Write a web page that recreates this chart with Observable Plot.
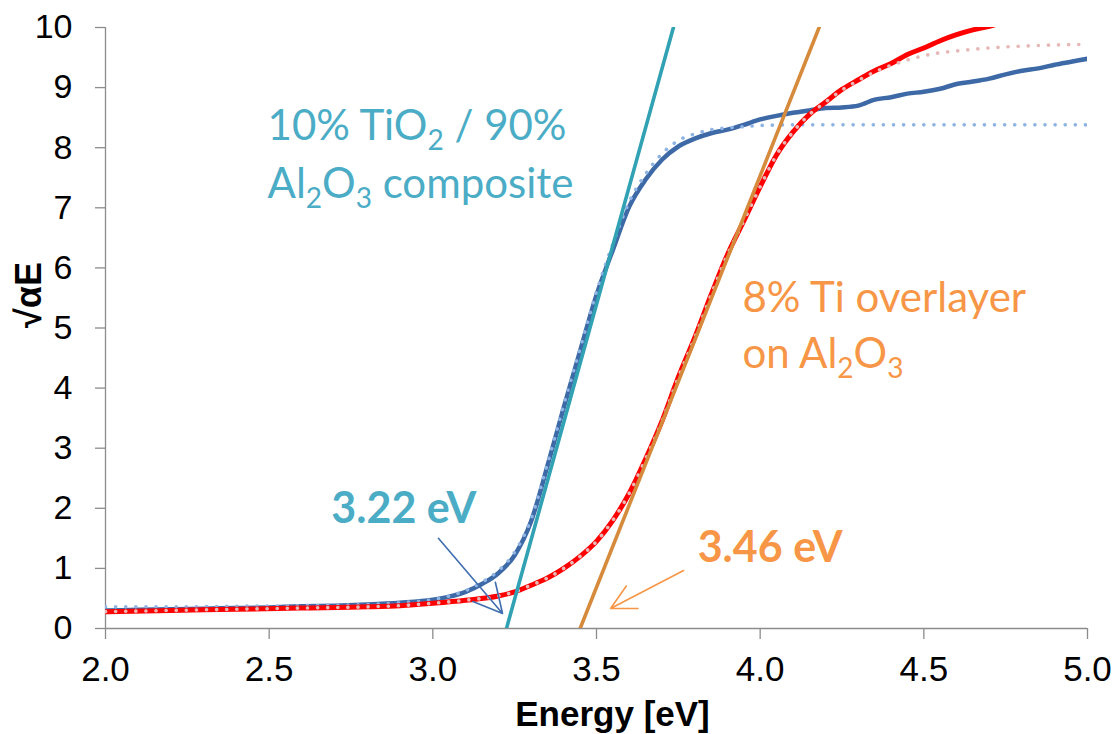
<!DOCTYPE html>
<html>
<head>
<meta charset="utf-8">
<script src="https://cdn.jsdelivr.net/npm/d3@7"></script>
<script src="https://cdn.jsdelivr.net/npm/@observablehq/plot@0.6"></script>
<style>
  html, body { margin: 0; padding: 0; background: #fff; }
</style>
</head>
<body>
<div id="chart"></div>
<script>
// ---- Data ----
// 10% TiO2 / 90% Al2O3 composite (measured, solid blue)
const compE = [2.00,2.10,2.20,2.30,2.40,2.50,2.60,2.70,2.80,2.90,3.00,3.05,3.10,3.15,3.20,3.25,3.30,3.35,3.40,3.45,3.50,3.55,3.60,3.65,3.70,3.75,3.80,3.85,3.90,3.95,4.00,4.05,4.10,4.15,4.20,4.25,4.30,4.35,4.40,4.45,4.50,4.55,4.60,4.65,4.70,4.75,4.80,4.85,4.90,4.95,5.00];
const compV = [0.30,0.31,0.32,0.33,0.34,0.35,0.37,0.38,0.40,0.43,0.48,0.53,0.61,0.74,0.92,1.22,1.78,2.70,3.68,4.62,5.55,6.30,7.02,7.47,7.80,8.02,8.15,8.24,8.30,8.38,8.47,8.53,8.58,8.62,8.66,8.67,8.70,8.80,8.84,8.90,8.93,8.98,9.06,9.10,9.15,9.22,9.28,9.32,9.38,9.43,9.48];
// composite fit (dotted light blue)
const compFitE = [2.00,2.20,2.40,2.60,2.80,2.90,3.00,3.05,3.10,3.15,3.20,3.25,3.30,3.35,3.40,3.45,3.50,3.55,3.60,3.65,3.70,3.75,3.80,3.85,3.90,3.95,4.00,4.10,4.20,4.50,5.00];
const compFitV = [0.36,0.36,0.37,0.38,0.40,0.43,0.48,0.54,0.63,0.77,0.96,1.27,1.82,2.74,3.72,4.66,5.60,6.40,7.10,7.56,7.90,8.12,8.23,8.30,8.33,8.35,8.37,8.38,8.38,8.38,8.38];
// 8% Ti overlayer on Al2O3 (measured, solid red)
const overE = [2.00,2.20,2.40,2.60,2.80,2.90,3.00,3.10,3.20,3.25,3.30,3.35,3.40,3.45,3.50,3.55,3.60,3.65,3.70,3.75,3.80,3.85,3.90,3.95,4.00,4.05,4.10,4.15,4.20,4.25,4.30,4.35,4.40,4.45,4.50,4.55,4.60,4.65,4.70,4.75];
const overV = [0.28,0.30,0.32,0.34,0.36,0.38,0.42,0.47,0.54,0.61,0.72,0.84,1.00,1.20,1.45,1.80,2.25,2.82,3.45,4.18,4.84,5.55,6.22,6.78,7.35,7.88,8.26,8.55,8.76,8.97,9.13,9.28,9.40,9.55,9.66,9.78,9.88,9.96,10.02,10.10];
// overlayer fit (dotted pink)
const overFitE = [2.00,2.20,2.40,2.60,2.80,2.90,3.00,3.10,3.20,3.25,3.30,3.35,3.40,3.45,3.50,3.55,3.60,3.65,3.70,3.75,3.80,3.85,3.90,3.95,4.00,4.05,4.10,4.15,4.20,4.25,4.30,4.35,4.40,4.45,4.50,4.55,4.60,4.70,4.80,4.90,5.00];
const overFitV = [0.28,0.30,0.32,0.34,0.36,0.38,0.42,0.47,0.54,0.61,0.72,0.84,1.00,1.20,1.45,1.80,2.25,2.82,3.45,4.18,4.84,5.55,6.22,6.78,7.35,7.88,8.26,8.55,8.76,8.96,9.12,9.26,9.37,9.46,9.53,9.58,9.61,9.66,9.69,9.71,9.72];
// Tauc tangent lines
const tealE = [3.225, 3.735];
const tealV = [0, 10];
const orangeE = [3.45, 4.18];
const orangeV = [0, 10];
// Ticks
const xTicks = [2.0, 2.5, 3.0, 3.5, 4.0, 4.5, 5.0];
const yTicks = [0, 1, 2, 3, 4, 5, 6, 7, 8, 9, 10];
// Annotations
const noteText = ["10% TiO₂ / 90%", "Al₂O₃ composite", "8% Ti overlayer", "on Al₂O₃", "3.22 eV", "3.46 eV"];
const noteX = [2.495, 2.495, 3.946, 3.946, 2.69, 3.809];
const noteY = [8.12, 7.17, 5.26, 4.33, 1.76, 1.10];
const noteColor = ["teal", "teal", "orange", "orange", "teal", "orange"];
const noteBold = [false, false, false, false, true, true];
// Arrows: [x1, y1, x2, y2]
const arrowX1 = [3.017, 3.766];
const arrowY1 = [1.50, 0.965];
const arrowX2 = [3.213, 3.543];
const arrowY2 = [0.25, 0.333];
const arrowColor = ["#3f6db0", "#f79646"];

// ---- Build tables ----
const toRows = (E, V) => E.map((x, i) => ({x, y: V[i]}));
const comp = toRows(compE, compV);
const compFit = toRows(compFitE, compFitV);
const over = toRows(overE, overV);
const overFit = toRows(overFitE, overFitV);
const teal = toRows(tealE, tealV);
const orange = toRows(orangeE, orangeV);
const colors = {teal: "#4bacc6", orange: "#f79646"};
const notes = noteText.map((t, i) => ({t, x: noteX[i], y: noteY[i], c: colors[noteColor[i]], b: noteBold[i]}));
const arrows = arrowX1.map((d, i) => ({x1: d, y1: arrowY1[i], x2: arrowX2[i], y2: arrowY2[i], c: arrowColor[i]}));

const axisGrey = "#8c8c8c";
const dotted = {strokeDasharray: "0.1,10", strokeLinecap: "round", strokeWidth: 3.6};

const chart = Plot.plot({
  width: 1116,
  height: 734,
  marginLeft: 105,
  marginRight: 29,
  marginTop: 27,
  marginBottom: 106,
  x: {domain: [2, 5]},
  y: {domain: [0, 10]},
  style: {fontFamily: "'Liberation Sans', Arial, sans-serif", background: "#fff", color: "#000"},
  marks: [
    Plot.axisY({ticks: yTicks, tickSize: 10, tickPadding: 23, label: null, fontSize: 34, stroke: axisGrey, strokeWidth: 1.3}),
    Plot.axisX({ticks: xTicks, tickFormat: d3.format(".1f"), tickSize: 11, tickPadding: 17, label: null, fontSize: 35, stroke: axisGrey, strokeWidth: 1.3}),
    Plot.ruleX([2], {y1: 0, y2: 10, stroke: axisGrey, strokeWidth: 1.3}),
    Plot.ruleY([0], {x1: 2, x2: 5, stroke: axisGrey, strokeWidth: 1.3}),
    Plot.line(comp, {x: "x", y: "y", stroke: "#3d69a6", strokeWidth: 4.5, curve: "monotone-x", clip: true}),
    Plot.line(compFit, {x: "x", y: "y", stroke: "#8fb4e3", curve: "monotone-x", clip: true, ...dotted}),
    Plot.line(over, {x: "x", y: "y", stroke: "#ff0000", strokeWidth: 5, curve: "monotone-x", clip: true}),
    Plot.line(overFit, {x: "x", y: "y", stroke: "#e6b9b8", curve: "monotone-x", clip: true, ...dotted}),
    Plot.line(teal, {x: "x", y: "y", stroke: "#31a1b4", strokeWidth: 3.6, clip: true}),
    Plot.line(orange, {x: "x", y: "y", stroke: "#d68a3c", strokeWidth: 3.6, clip: true}),
    Plot.arrow(arrows, {x1: "x1", y1: "y1", x2: "x2", y2: "y2", stroke: "c", strokeWidth: 1.6, headLength: 30, headAngle: 55}),
    Plot.text(notes.filter(d => !d.b), {x: "x", y: "y", text: "t", fill: "c", textAnchor: "start", lineAnchor: "bottom",
      fontSize: 42, fontFamily: "Lato, 'Noto Sans', sans-serif"}),
    Plot.text(notes.filter(d => d.b), {x: "x", y: "y", text: "t", fill: "c", textAnchor: "start", lineAnchor: "bottom",
      fontSize: 43, fontWeight: "bold", fontFamily: "Lato, 'Noto Sans', sans-serif"}),
    Plot.text(["Energy [eV]"], {text: d => d, frameAnchor: "bottom", dy: 86, dx: 16, lineAnchor: "middle",
      fontSize: 35, fontWeight: "bold", fill: "#000"}),
    Plot.text(["√αE"], {text: d => d, frameAnchor: "left", dx: -76, rotate: -90, lineAnchor: "middle",
      fontSize: 36, fontWeight: "bold", fill: "#000"})
  ]
});

// Render subscripts (₂, ₃) as real lowered smaller digits
const subMap = {"₂": "2", "₃": "3"};
const NS = "http://www.w3.org/2000/svg";
d3.select(chart).selectAll("text").each(function () {
  const s = this.textContent;
  if (!/[₂₃]/.test(s)) return;
  const parts = s.split(/([₂₃]+)/);
  this.textContent = "";
  let shifted = false;
  parts.forEach((p, i) => {
    if (!p) return;
    const ts = document.createElementNS(NS, "tspan");
    if (i % 2 === 1) {
      ts.textContent = [...p].map(c => subMap[c]).join("");
      ts.setAttribute("font-size", "28");
      ts.setAttribute("dy", "10");
      shifted = true;
    } else {
      ts.textContent = p;
      if (shifted) { ts.setAttribute("dy", "-10"); shifted = false; }
    }
    this.appendChild(ts);
  });
});

document.getElementById("chart").appendChild(chart);
</script>
</body>
</html>
